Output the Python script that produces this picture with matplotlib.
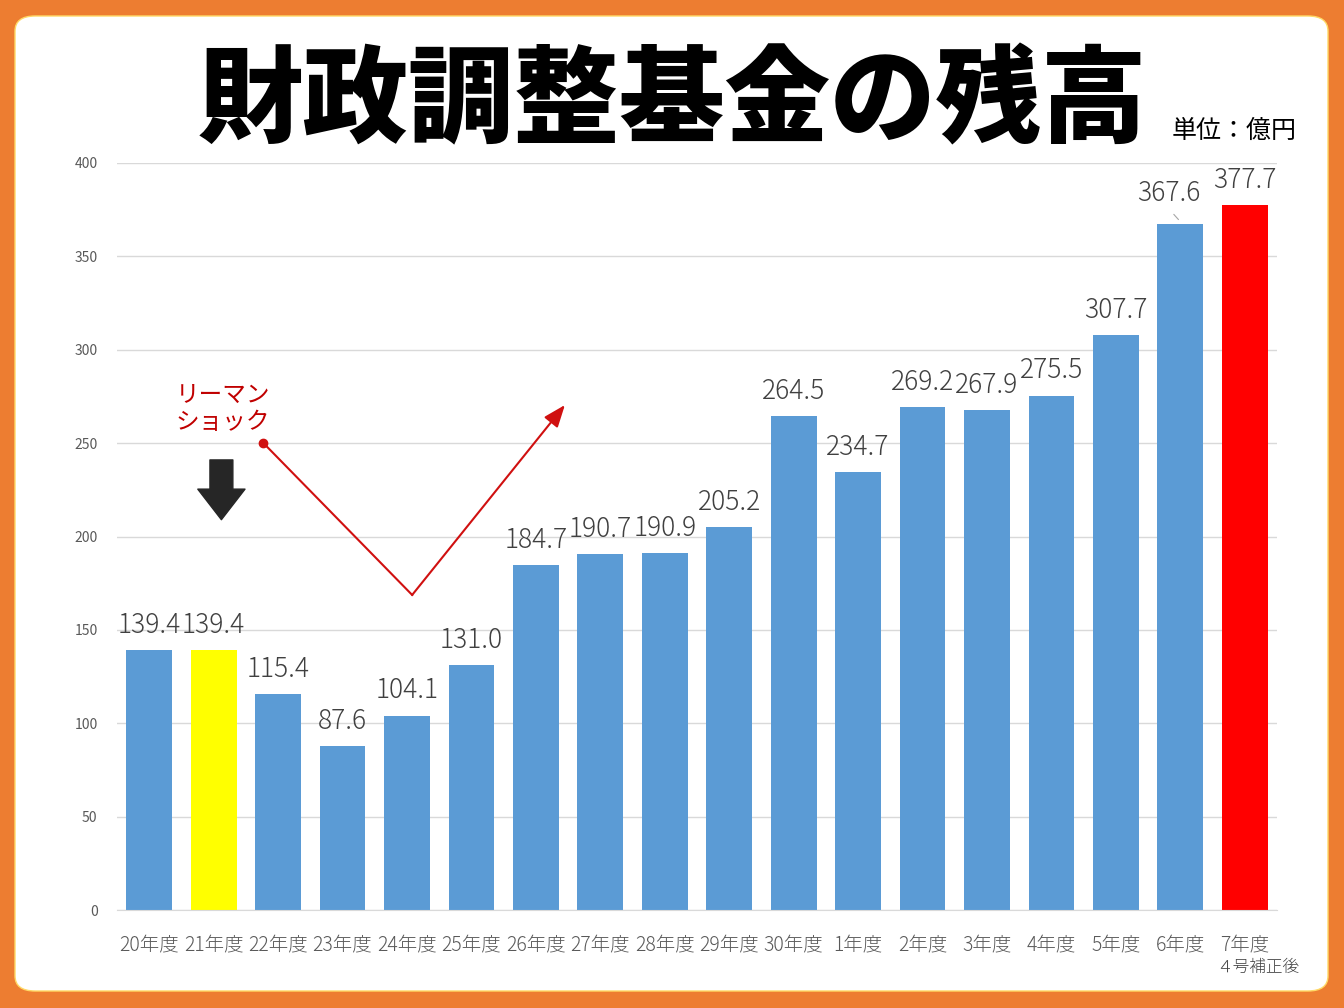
import matplotlib.pyplot as plt
from matplotlib.patches import FancyBboxPatch

plt.rcParams['font.family'] = ['Noto Sans CJK JP', 'DejaVu Sans']

# data
categories = ['20年度', '21年度', '22年度', '23年度', '24年度', '25年度', '26年度',
              '27年度', '28年度', '29年度', '30年度', '1年度', '2年度', '3年度',
              '4年度', '5年度', '6年度', '7年度']
balances = [139.4, 139.4, 115.4, 87.6, 104.1, 131.0, 184.7, 190.7, 190.9,
            205.2, 264.5, 234.7, 269.2, 267.9, 275.5, 307.7, 367.6, 377.7]
bar_colors = ['#5B9BD5'] * len(categories)
bar_colors[1] = '#FFFF00'
bar_colors[-1] = '#FF0000'

fig = plt.figure(figsize=(13.44, 10.08), dpi=100)
fig.patch.set_facecolor('#ED7D31')

# white rounded panel
panel = FancyBboxPatch((15 / 1344, 17 / 1008), 1313 / 1344, 975 / 1008,
                       boxstyle='round,pad=0,rounding_size=0.015',
                       transform=fig.transFigure, facecolor='white',
                       edgecolor='#FFD966', linewidth=1.0, zorder=-10)
fig.patches.append(panel)

ax = fig.add_axes([117 / 1344, 1 - 910 / 1008, 1160 / 1344, 747 / 1008])
ax.set_facecolor('none')
ax.set_zorder(5)

x = list(range(len(categories)))
ax.bar(x, balances, width=0.71, color=bar_colors, zorder=2)

ax.set_xlim(-0.5, len(categories) - 0.5)
ax.set_ylim(0, 400)
ax.set_yticks(range(0, 401, 50))
ax.yaxis.grid(True, color='#D9D9D9', linewidth=1, zorder=0)
ax.set_axisbelow(True)
for s in ['top', 'right', 'left']:
    ax.spines[s].set_visible(False)
ax.spines['bottom'].set_color('#D9D9D9')
ax.tick_params(axis='both', length=0)
ax.tick_params(axis='y', labelsize=10, labelcolor='#595959', pad=14)
ax.set_xticks(x)
ax.set_xticklabels(categories, fontsize=14, color='#595959', fontweight='light')
ax.tick_params(axis='x', pad=18)

# value labels
for i, v in enumerate(balances):
    dx = -8 if i == 16 else 0
    ax.annotate(f'{v:.1f}', (i, v), xytext=(dx, 12 if i == 16 else 8),
                textcoords='offset points', ha='center', va='bottom',
                fontsize=19, fontweight='light', color='#404040')
ax.annotate('', xy=(16, balances[16] + 1), xytext=(15.87, balances[16] + 6),
            arrowprops=dict(arrowstyle='-', color='#A6A6A6', lw=0.8))

# note below last category
ax.text(17.2, -31, '４号補正後', ha='center', va='center', fontsize=12,
        fontweight='light', color='#404040', clip_on=False)

# Lehman shock annotation
ax.text(1.14, 268.3, 'リーマン\nショック', ha='center', va='center', fontsize=17,
        color='#C00000', linespacing=1.28)
ax.annotate('', xy=(1.12, 209), xytext=(1.12, 241),
            arrowprops=dict(arrowstyle='simple,head_width=34,head_length=22,tail_width=16.5',
                            mutation_scale=1, color='#262626', shrinkA=0, shrinkB=0))
ax.plot([1.77, 4.08], [250.1, 168.7], color='#D01010', lw=1.5, zorder=3)
ax.plot([1.77], [250.1], 'o', color='#D01010', ms=6, zorder=3)
ax.annotate('', xy=(6.45, 270.4), xytext=(4.08, 168.7),
            arrowprops=dict(arrowstyle='-|>,head_width=0.35,head_length=0.9',
                            mutation_scale=15, color='#D01010', lw=1.5,
                            shrinkA=0, shrinkB=0))

# titles
fig.text(672 / 1344, 1 - 103 / 1008, '財政調整基金の残高', ha='center', va='center',
         fontsize=76, fontweight='heavy', color='black')
fig.text(1234 / 1344, 1 - 131 / 1008, '単位：億円', ha='center', va='center',
         fontsize=18, color='black')

fig.savefig('out.png', dpi=100, facecolor=fig.get_facecolor())
